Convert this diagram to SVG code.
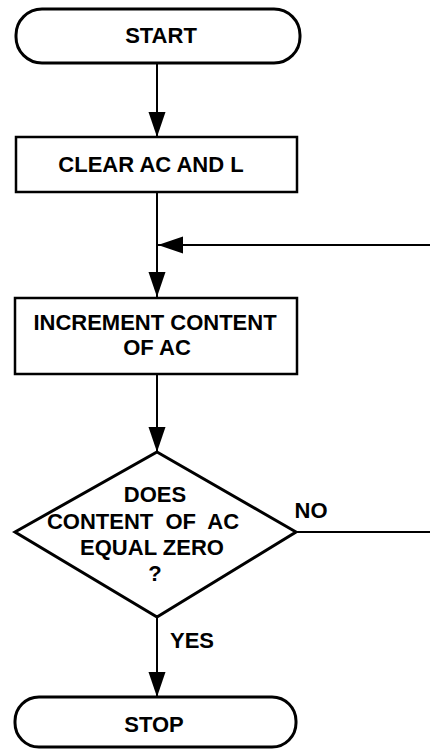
<svg xmlns="http://www.w3.org/2000/svg" width="430" height="750" viewBox="0 0 430 750">
<style>
.shape{fill:#fff;stroke:#000;stroke-width:3}
.box{fill:#fff;stroke:#000;stroke-width:2.5}
.line{fill:none;stroke:#000;stroke-width:2}
text{font-family:"Liberation Sans",Arial,sans-serif;font-weight:bold;font-size:22px;fill:#000;text-anchor:middle}
</style>
<defs>
<marker id="arr" markerUnits="userSpaceOnUse" markerWidth="26" markerHeight="18" refX="25" refY="9" orient="auto" viewBox="0 0 26 18">
<path d="M0,0.5 L25,9 L0,17.5 Z" fill="#000"/>
</marker>
</defs>
<rect width="430" height="750" fill="#fff"/>
<g id="connectors">
<line class="line" x1="157" y1="64" x2="157" y2="137" marker-end="url(#arr)"/>
<line class="line" x1="157" y1="192" x2="157" y2="297" marker-end="url(#arr)"/>
<line class="line" x1="430" y1="245" x2="158" y2="245" marker-end="url(#arr)"/>
<line class="line" x1="157" y1="374" x2="157" y2="452" marker-end="url(#arr)"/>
<line class="line" x1="296" y1="532" x2="430" y2="532"/>
<line class="line" x1="157" y1="617" x2="157" y2="697" marker-end="url(#arr)"/>
</g>
<g id="start">
<rect class="shape" x="16" y="9" width="284" height="54" rx="26" ry="26"/>
<text x="161" y="43">START</text>
</g>
<g id="clear">
<rect class="box" x="16" y="137" width="281" height="55"/>
<text x="151" y="172">CLEAR AC AND L</text>
</g>
<g id="increment">
<rect class="box" x="15" y="298" width="282" height="76"/>
<text x="155" y="330">INCREMENT CONTENT</text>
<text x="157" y="355">OF AC</text>
</g>
<g id="decision">
<polygon class="shape" points="157,452 296,532 157,617 15,532"/>
<text x="155" y="502">DOES</text>
<text x="143" y="529" word-spacing="6">CONTENT OF AC</text>
<text x="152" y="555">EQUAL ZERO</text>
<text x="155" y="581">?</text>
</g>
<g id="labels">
<text x="311" y="518">NO</text>
<text x="192" y="648" font-size="21">YES</text>
</g>
<g id="stop">
<rect class="shape" x="15" y="697" width="281" height="50" rx="24" ry="24"/>
<text x="154" y="732">STOP</text>
</g>
</svg>
